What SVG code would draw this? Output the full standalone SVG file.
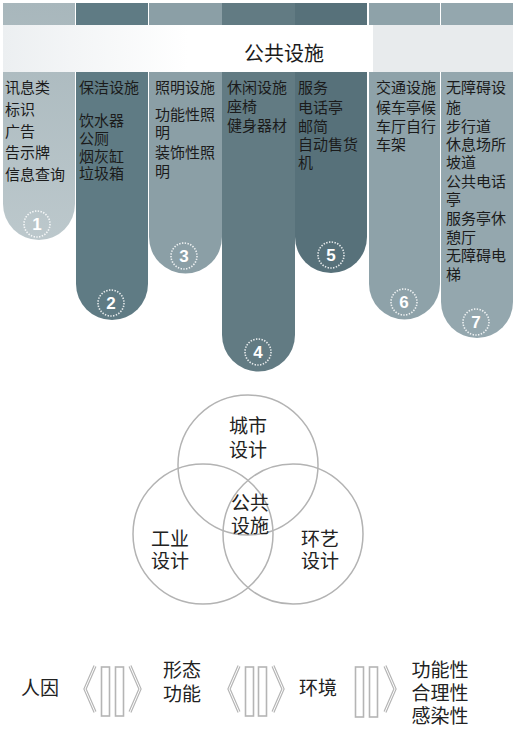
<svg xmlns="http://www.w3.org/2000/svg" width="520" height="733" viewBox="0 0 520 733">
<defs>
<linearGradient id="band" x1="0" y1="0" x2="1" y2="0">
<stop offset="0" stop-color="#eceff1"/>
<stop offset="0.5" stop-color="#ffffff"/>
<stop offset="1" stop-color="#ffffff"/>
</linearGradient>
<linearGradient id="g1" x1="0" y1="0" x2="0" y2="1"><stop offset="0" stop-color="#a8b7bc"/><stop offset="1" stop-color="#bcc8cc"/></linearGradient>
</defs>
<style>
.t{font-family:"Noto Sans CJK SC","Noto Sans",sans-serif;font-size:15px;fill:#1b1b1b}
.v{font-family:"Noto Sans CJK SC","Noto Sans",sans-serif;font-size:19px;fill:#222;text-anchor:middle}
.num{font-family:"Liberation Sans",Arial,sans-serif;font-size:17px;font-weight:bold;fill:#ffffff;text-anchor:middle}
.ring{fill:none;stroke:#ffffff;stroke-width:1.6;stroke-dasharray:1.4 1.4;opacity:0.85}
.vc{fill:none;stroke:#b3b3b3;stroke-width:1.5}
.rb{fill:#ffffff;stroke:#b5b5b5;stroke-width:1.6}
.ch{fill:none;stroke:#b5b5b5;stroke-width:3.2;stroke-linejoin:miter}
.chi{fill:none;stroke:#ffffff;stroke-width:1}
</style>
<rect width="520" height="733" fill="#ffffff"/>

<g id="col1"><path d="M3 3H75V204A36 36 0 0 1 3 204Z" fill="url(#g1)"/>
<circle class="ring" cx="37" cy="224" r="13"/><text class="num" x="37" y="230">1</text></g>
<g id="col2"><path d="M76 3H148V284A36 36 0 0 1 76 284Z" fill="#5f7b84"/>
<circle class="ring" cx="111" cy="303" r="13"/><text class="num" x="111" y="309">2</text></g>
<g id="col3"><path d="M149 3H222V237A36.5 36.5 0 0 1 149 237Z" fill="#8b9fa6"/>
<circle class="ring" cx="184" cy="256" r="13"/><text class="num" x="184" y="262">3</text></g>
<g id="col4"><path d="M222 3H295V335A36.5 36.5 0 0 1 222 335Z" fill="#627b83"/>
<circle class="ring" cx="258" cy="352" r="13"/><text class="num" x="258" y="358">4</text></g>
<g id="col5"><path d="M295 3H367V237A36 36 0 0 1 295 237Z" fill="#57717a"/>
<circle class="ring" cx="331" cy="255" r="13"/><text class="num" x="331" y="261">5</text></g>
<g id="col6"><path d="M369 3H440V284A35.5 35.5 0 0 1 369 284Z" fill="#8ea2a9"/>
<circle class="ring" cx="404" cy="302" r="13"/><text class="num" x="404" y="308">6</text></g>
<g id="col7"><path d="M441 3H513V302A36 36 0 0 1 441 302Z" fill="#94a7ae"/>
<circle class="ring" cx="476" cy="322" r="13"/><text class="num" x="476" y="328">7</text></g>

<g id="band-title">
<rect x="3" y="25" width="370" height="47" fill="url(#band)"/>
<rect x="373" y="25" width="140" height="47" fill="#e8ebed"/>
<text x="284" y="61" style="font-family:'Noto Sans CJK SC',sans-serif;font-size:20px;fill:#1b1b1b;text-anchor:middle">公共设施</text>
</g>

<g id="texts">
<text class="t" x="5" y="93">讯息类</text>
<text class="t" x="5" y="115">标识</text>
<text class="t" x="5" y="137">广告</text>
<text class="t" x="5" y="158">告示牌</text>
<text class="t" x="5" y="180">信息查询</text>

<text class="t" x="79" y="93">保洁设施</text>
<text class="t" x="79" y="126">饮水器</text>
<text class="t" x="79" y="144">公厕</text>
<text class="t" x="79" y="162">烟灰缸</text>
<text class="t" x="79" y="179">垃圾箱</text>

<text class="t" x="155" y="93">照明设施</text>
<text class="t" x="155" y="120">功能性照</text>
<text class="t" x="155" y="138">明</text>
<text class="t" x="155" y="158">装饰性照</text>
<text class="t" x="155" y="177">明</text>

<text class="t" x="227" y="93">休闲设施</text>
<text class="t" x="227" y="112">座椅</text>
<text class="t" x="227" y="131">健身器材</text>

<text class="t" x="298" y="93">服务</text>
<text class="t" x="298" y="113">电话亭</text>
<text class="t" x="298" y="132">邮简</text>
<text class="t" x="298" y="150">自动售货</text>
<text class="t" x="298" y="168">机</text>

<text class="t" x="376" y="93">交通设施</text>
<text class="t" x="376" y="113">候车亭候</text>
<text class="t" x="376" y="132">车厅自行</text>
<text class="t" x="376" y="150">车架</text>

<text class="t" x="446" y="93">无障碍设</text>
<text class="t" x="446" y="113">施</text>
<text class="t" x="446" y="132">步行道</text>
<text class="t" x="446" y="150">休息场所</text>
<text class="t" x="446" y="168">坡道</text>
<text class="t" x="446" y="187">公共电话</text>
<text class="t" x="446" y="205">亭</text>
<text class="t" x="446" y="224">服务亭休</text>
<text class="t" x="446" y="243">憩厅</text>
<text class="t" x="446" y="261">无障碍电</text>
<text class="t" x="446" y="280">梯</text>
</g>

<g id="venn">
<circle class="vc" cx="248" cy="465" r="70"/>
<circle class="vc" cx="203" cy="534" r="70"/>
<circle class="vc" cx="293" cy="534" r="70"/>
<text class="v" x="248" y="433">城市</text>
<text class="v" x="248" y="457">设计</text>
<text class="v" x="250" y="510">公共</text>
<text class="v" x="250" y="533">设施</text>
<text class="v" x="170" y="546">工业</text>
<text class="v" x="170" y="568">设计</text>
<text class="v" x="320" y="546">环艺</text>
<text class="v" x="320" y="568">设计</text>
</g>

<g id="bottom">
<text class="v" x="40" y="695">人因</text>
<g id="sym1">
<polyline class="ch" points="95,666 85,689 95,712"/><polyline class="chi" points="95,666 85,689 95,712"/>
<rect class="rb" x="101.5" y="667" width="8" height="49"/>
<rect class="rb" x="115.5" y="667" width="8" height="49"/>
<polyline class="ch" points="130,666 140,689 130,712"/><polyline class="chi" points="130,666 140,689 130,712"/>
</g>
<text class="v" x="182" y="677">形态</text>
<text class="v" x="182" y="701">功能</text>
<g id="sym2">
<polyline class="ch" points="239,666 229,689 239,712"/><polyline class="chi" points="239,666 229,689 239,712"/>
<rect class="rb" x="245.5" y="667" width="8" height="49"/>
<rect class="rb" x="258.5" y="667" width="8" height="49"/>
<polyline class="ch" points="273,666 283,689 273,712"/><polyline class="chi" points="273,666 283,689 273,712"/>
</g>
<text class="v" x="318" y="695">环境</text>
<g id="sym3">
<rect class="rb" x="355.5" y="667" width="8" height="50"/>
<rect class="rb" x="369.5" y="667" width="8" height="50"/>
<polyline class="ch" points="385,666 395,689 385,712"/><polyline class="chi" points="385,666 395,689 385,712"/>
</g>
<text class="v" x="440" y="677">功能性</text>
<text class="v" x="440" y="700">合理性</text>
<text class="v" x="440" y="723">感染性</text>
</g>
</svg>
